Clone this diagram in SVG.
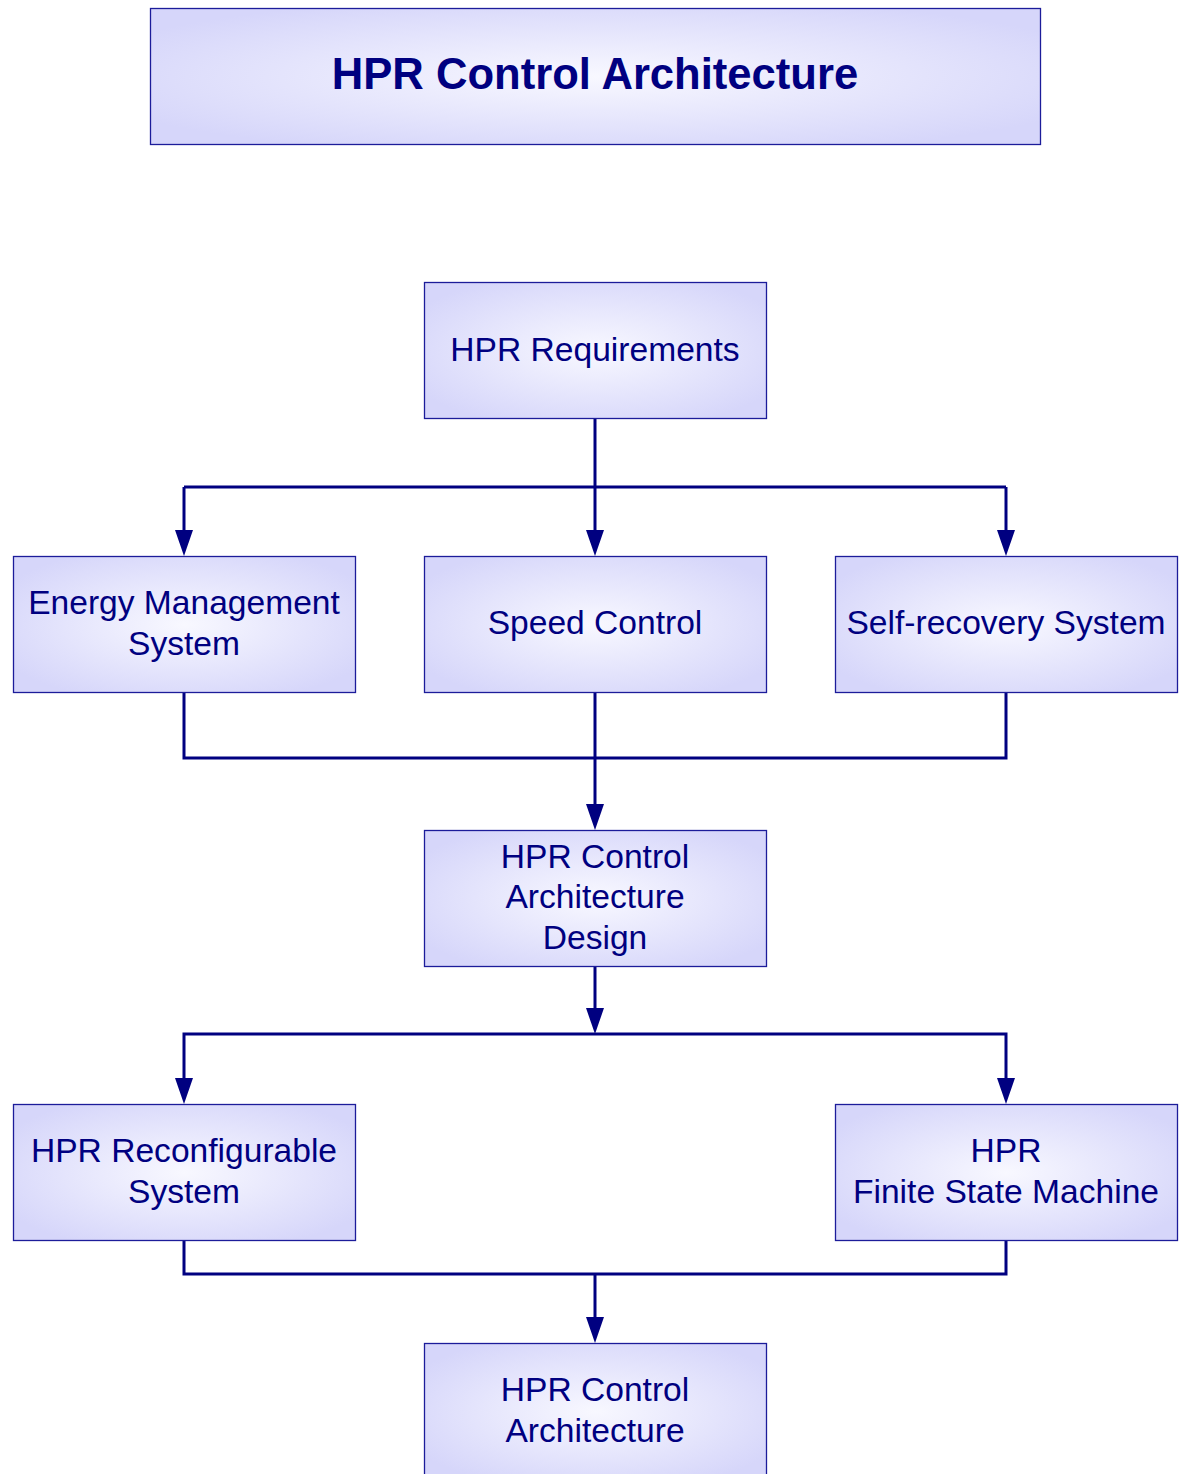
<svg xmlns="http://www.w3.org/2000/svg" width="1179" height="1474" viewBox="0 0 1179 1474">
<style>
.box{fill:url(#g);stroke:#1c1c9a;stroke-width:1.3}
.t{font-family:"Liberation Sans",Arial,sans-serif;font-size:33.6px;fill:#000080;text-anchor:middle}
.title{font-family:"Liberation Sans",Arial,sans-serif;font-size:43.6px;font-weight:bold;fill:#000080;text-anchor:middle}
.c{fill:none;stroke:#000080;stroke-width:3}
</style>
<defs>
<radialGradient id="g" cx="50%" cy="50%" r="60%">
<stop offset="0" stop-color="#f8f8ff"/>
<stop offset="1" stop-color="#d6d6fa"/>
</radialGradient>
</defs>
<g id="title"><rect class="box" x="150.5" y="8.5" width="890" height="136"/><text class="title" x="595" y="89">HPR Control Architecture</text></g>
<g id="connectors">
<path class="c" d="M595,418 V487"/>
<path class="c" d="M184,487 H1006"/>
<path class="c" d="M595,487 V530"/>
<path class="c" d="M184,487 V530"/>
<path class="c" d="M1006,487 V530"/>
<path class="c" d="M184,692 V758 H1006 V692"/>
<path class="c" d="M595,692 V804"/>
<path class="c" d="M595,966 V1008"/>
<path class="c" d="M184,1078 V1034 H1006 V1078"/>
<path class="c" d="M184,1240 V1274 H1006 V1240"/>
<path class="c" d="M595,1274 V1317"/>
<g fill="#000080">
<path d="M586,530 L604,530 L595,556 Z"/>
<path d="M175,530 L193,530 L184,556 Z"/>
<path d="M997,530 L1015,530 L1006,556 Z"/>
<path d="M586,804 L604,804 L595,830 Z"/>
<path d="M586,1008 L604,1008 L595,1034 Z"/>
<path d="M175,1078 L193,1078 L184,1104 Z"/>
<path d="M997,1078 L1015,1078 L1006,1104 Z"/>
<path d="M586,1317 L604,1317 L595,1343 Z"/>
</g>
</g>
<g id="req"><rect class="box" x="424.5" y="282.5" width="342" height="136"/><text class="t" x="595" y="361">HPR Requirements</text></g>
<g id="energy"><rect class="box" x="13.5" y="556.5" width="342" height="136"/><text class="t" x="184" y="614">Energy Management</text><text class="t" x="184" y="655">System</text></g>
<g id="speed"><rect class="box" x="424.5" y="556.5" width="342" height="136"/><text class="t" x="595" y="634">Speed Control</text></g>
<g id="self"><rect class="box" x="835.5" y="556.5" width="342" height="136"/><text class="t" x="1006" y="634">Self-recovery System</text></g>
<g id="design"><rect class="box" x="424.5" y="830.5" width="342" height="136"/><text class="t" x="595" y="868">HPR Control</text><text class="t" x="595" y="908">Architecture</text><text class="t" x="595" y="949">Design</text></g>
<g id="reconf"><rect class="box" x="13.5" y="1104.5" width="342" height="136"/><text class="t" x="184" y="1162">HPR Reconfigurable</text><text class="t" x="184" y="1203">System</text></g>
<g id="fsm"><rect class="box" x="835.5" y="1104.5" width="342" height="136"/><text class="t" x="1006" y="1162">HPR</text><text class="t" x="1006" y="1203">Finite State Machine</text></g>
<g id="arch"><rect class="box" x="424.5" y="1343.5" width="342" height="136"/><text class="t" x="595" y="1401">HPR Control</text><text class="t" x="595" y="1442">Architecture</text></g>
</svg>
